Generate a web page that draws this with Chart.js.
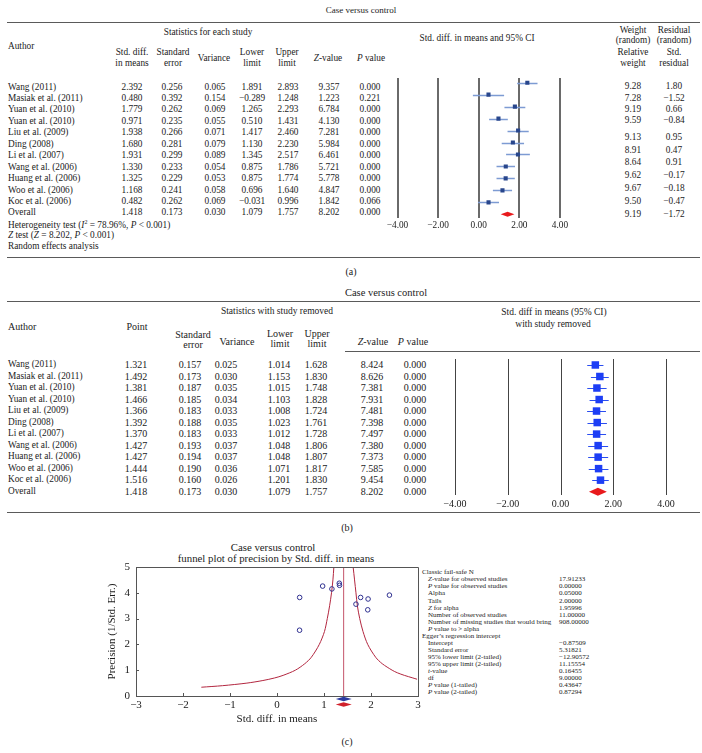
<!DOCTYPE html>
<html>
<head>
<meta charset="utf-8">
<script src="https://cdn.jsdelivr.net/npm/chart.js@4.4.1/dist/chart.umd.min.js"></script>
<style>
  html, body { margin: 0; padding: 0; background: #fff; }
  #page { position: relative; width: 702px; height: 753px; overflow: hidden;
          font-family: "Liberation Serif", "Times New Roman", serif; color: #1b1b1b; }
  .t { position: absolute; white-space: nowrap; line-height: 1; z-index: 1; }
  .rule { position: absolute; height: 0; border-top: 1.5px solid #5a5a5a; z-index: 1; }
  canvas { position: absolute; z-index: 2; }
</style>
</head>
<body>
<div id="page">
  <canvas id="forestA" width="210" height="175" style="left:370px;top:70px"></canvas>
  <canvas id="forestB" width="260" height="165" style="left:430px;top:350px"></canvas>
  <canvas id="funnel" width="340" height="170" style="left:90px;top:560px"></canvas>
</div>
<script>
// ---- data -------------------------------------------------------------
const authors = ["Wang (2011)", "Masiak et al. (2011)", "Yuan et al. (2010)", "Yuan et al. (2010)",
  "Liu et al. (2009)", "Ding (2008)", "Li et al. (2007)", "Wang et al. (2006)",
  "Huang et al. (2006)", "Woo et al. (2006)", "Koc et al. (2006)", "Overall"];

// (a) statistics for each study (last entry = overall)
const stdDiffA  = [2.392, 0.480, 1.779, 0.971, 1.938, 1.680, 1.931, 1.330, 1.325, 1.168, 0.482, 1.418];
const stdErrA   = [0.256, 0.392, 0.262, 0.235, 0.266, 0.281, 0.299, 0.233, 0.229, 0.241, 0.262, 0.173];
const varianceA = [0.065, 0.154, 0.069, 0.055, 0.071, 0.079, 0.089, 0.054, 0.053, 0.058, 0.069, 0.030];
const lowerA    = [1.891, -0.289, 1.265, 0.510, 1.417, 1.130, 1.345, 0.875, 0.875, 0.696, -0.031, 1.079];
const upperA    = [2.893, 1.248, 2.293, 1.431, 2.460, 2.230, 2.517, 1.786, 1.774, 1.640, 0.996, 1.757];
const zValueA   = [9.357, 1.223, 6.784, 4.130, 7.281, 5.984, 6.461, 5.721, 5.778, 4.847, 1.842, 8.202];
const pValueA   = [0.000, 0.221, 0.000, 0.000, 0.000, 0.000, 0.000, 0.000, 0.000, 0.000, 0.066, 0.000];
const relWeight = [9.28, 7.28, 9.19, 9.59, 9.13, 8.91, 8.64, 9.62, 9.67, 9.50, 9.19];
const stdResid  = [1.80, -1.52, 0.66, -0.84, 0.95, 0.47, 0.91, -0.17, -0.18, -0.47, -1.72];

// (b) statistics with study removed (last entry = overall)
const pointB    = [1.321, 1.492, 1.381, 1.466, 1.366, 1.392, 1.370, 1.427, 1.427, 1.444, 1.516, 1.418];
const stdErrB   = [0.157, 0.173, 0.187, 0.185, 0.183, 0.188, 0.183, 0.193, 0.194, 0.190, 0.160, 0.173];
const varianceB = [0.025, 0.030, 0.035, 0.034, 0.033, 0.035, 0.033, 0.037, 0.037, 0.036, 0.026, 0.030];
const lowerB    = [1.014, 1.153, 1.015, 1.103, 1.008, 1.023, 1.012, 1.048, 1.048, 1.071, 1.201, 1.079];
const upperB    = [1.628, 1.830, 1.748, 1.828, 1.724, 1.761, 1.728, 1.806, 1.807, 1.817, 1.830, 1.757];
const zValueB   = [8.424, 8.626, 7.381, 7.931, 7.481, 7.398, 7.497, 7.380, 7.373, 7.585, 9.454, 8.202];
const pValueB   = [0.000, 0.000, 0.000, 0.000, 0.000, 0.000, 0.000, 0.000, 0.000, 0.000, 0.000, 0.000];

// forest axis ticks
const forestTicks = [-4, -2, 0, 2, 4];

// (c) funnel plot
const funnelEffect    = [2.392, 0.480, 1.779, 0.971, 1.938, 1.680, 1.931, 1.330, 1.325, 1.168, 0.482];
const funnelPrecision = [3.91, 2.55, 3.82, 4.26, 3.76, 3.56, 3.34, 4.29, 4.37, 4.15, 3.82];
const funnelMean = 1.418;
const funnelLeftX  = [-1.61, -1.16, -0.64, -0.30, -0.05, 0.13, 0.39, 0.59, 0.73, 0.90, 1.01, 1.07, 1.12, 1.16, 1.19, 1.21];
const funnelLeftP  = [0.34, 0.40, 0.50, 0.60, 0.70, 0.80, 1.00, 1.25, 1.50, 2.00, 2.50, 3.00, 3.50, 4.00, 4.50, 5.00];
const funnelRightX = [1.62, 1.65, 1.68, 1.71, 1.76, 1.83, 1.93, 2.10, 2.24, 2.45, 2.56, 2.71, 2.89, 2.98];
const funnelRightP = [5.00, 4.50, 4.00, 3.50, 3.00, 2.50, 2.00, 1.50, 1.25, 1.00, 0.90, 0.80, 0.70, 0.65];
const funnelDiamond = { lo: 1.25, hi: 1.59 };

const statsLabels = ["Classic fail-safe N", "<i>Z</i>-value for observed studies", "<i>P</i> value for observed studies",
  "Alpha", "Tails", "<i>Z</i> for alpha", "Number of observed studies", "Number of missing studies that would bring",
  "<i>P</i> value to &gt; alpha", "Egger’s regression intercept", "Intercept", "Standard error",
  "95% lower limit (2-tailed)", "95% upper limit (2-tailed)", "<i>t</i>-value", "df",
  "<i>P</i> value (1-tailed)", "<i>P</i> value (2-tailed)"];
const statsValues = ["", "17.91233", "0.00000", "0.05000", "2.00000", "1.95996", "11.00000", "908.00000", "",
  "", "−0.87509", "5.31821", "−12.90572", "11.15554", "0.16455", "9.00000", "0.43647", "0.87294"];
const statsHeaders = [0, 9];

// ---- helpers -----------------------------------------------------------
const page = document.getElementById("page");
function txt(html, x, y, size, align) {
  const d = document.createElement("div");
  d.className = "t";
  d.innerHTML = html;
  d.style.fontSize = size + "px";
  d.style.left = x + "px";
  d.style.top = y + "px";
  const tx = align === "l" ? "0" : align === "r" ? "-100%" : "-50%";
  d.style.transform = `translate(${tx},-50%)`;
  page.appendChild(d);
}
function rule(x, y, w) {
  const d = document.createElement("div");
  d.className = "rule";
  d.style.left = x + "px"; d.style.top = y + "px"; d.style.width = w + "px";
  page.appendChild(d);
}
const fmt = (v, n) => (v < 0 ? "−" : "") + Math.abs(v).toFixed(n);
const serif = "'Liberation Serif', 'Times New Roman', serif";

// ---- panel (a) text ----------------------------------------------------
const fa = 9.3;
txt("Case versus control", 361, 10, 9);
rule(7, 22, 693);
txt("Statistics for each study", 208, 33, fa);
txt("Author", 8, 47, fa, "l");
[["Std. diff.", "in means", 132], ["Standard", "error", 173], ["Lower", "limit", 252], ["Upper", "limit", 287]]
  .forEach(([a, b, x]) => { txt(a, x, 53, fa); txt(b, x, 63.5, fa); });
txt("Variance", 214, 59, fa);
txt("<i>Z</i>-value", 328, 59, fa);
txt("<i>P</i> value", 371, 59, fa);
txt("Std. diff. in means and 95% CI", 477, 39, fa);
txt("Weight", 633, 31, fa); txt("(random)", 633, 40.5, fa);
txt("Relative", 633, 53, fa); txt("weight", 633, 63.5, fa);
txt("Residual", 674, 31, fa); txt("(random)", 674, 40.5, fa);
txt("Std.", 674, 53, fa); txt("residual", 674, 63.5, fa);

const colsA = [[stdDiffA, 132], [stdErrA, 172], [varianceA, 215], [lowerA, 252], [upperA, 288], [zValueA, 329], [pValueA, 370]];
authors.forEach((name, i) => {
  const y = 87.5 + i * 11.45;
  txt(name, 8, y, fa, "l");
  colsA.forEach(([arr, x]) => txt(fmt(arr[i], 3), x, y, fa));
});
relWeight.forEach((w, i) => {
  const y = i < 4 ? 87.3 + i * 11.2 : 137.7 + (i - 4) * 12.88;
  txt(w.toFixed(2), 633, y, fa);
  txt(fmt(stdResid[i], 2), 674, y, fa);
});
txt("Heterogeneity test (<i>I</i><sup style='font-size:6px'>2</sup> = 78.96%, <i>P</i> &lt; 0.001)", 8, 224.5, fa, "l");
txt("<i>Z</i> test (<i>Z</i> = 8.202, <i>P</i> &lt; 0.001)", 8, 235.5, fa, "l");
txt("Random effects analysis", 8, 246.5, fa, "l");
rule(7, 257, 693);
txt("(a)", 351, 272, 10);

// ---- panel (b) text ----------------------------------------------------
const fb = 10;
txt("Case versus control", 386, 293, 10.5);
rule(7, 301, 693);
txt("Statistics with study removed", 277, 311.5, 9.5);
txt("Author", 8, 327, fb, "l");
txt("Point", 137, 327, fb);
txt("Standard", 193, 335, fb); txt("error", 193, 345, fb);
txt("Variance", 237, 342, fb);
txt("Lower", 280, 334, fb); txt("limit", 280, 343.5, fb);
txt("Upper", 317, 334, fb); txt("limit", 317, 343.5, fb);
txt("<i>Z</i>-value", 373, 342, fb);
txt("<i>P</i> value", 413, 342, fb);
txt("Std. diff in means (95% CI)", 554, 313, 9.5);
txt("with study removed", 553, 325, 9.5);
rule(345, 351, 355);
const colsB = [[pointB, 136], [stdErrB, 190], [varianceB, 226], [lowerB, 279], [upperB, 316], [zValueB, 372], [pValueB, 415]];
authors.forEach((name, i) => {
  const y = 365 + i * 11.52;
  txt(name, 8, y, 9.3, "l");
  colsB.forEach(([arr, x]) => txt(fmt(arr[i], 3), x, y, fb));
});
rule(7, 511.5, 693);
txt("(b)", 347, 528, 10);

// ---- panel (c) text ----------------------------------------------------
txt("Case versus control", 273, 547, 10.8);
txt("funnel plot of precision by Std. diff. in means", 276, 557.5, 10.8);
statsLabels.forEach((lab, i) => {
  const y = 572.3 + i * 7.05;
  txt(lab, statsHeaders.includes(i) ? 422 : 428, y, 7, "l");
  if (statsValues[i]) txt(statsValues[i], 559, y, 7, "l");
});
txt("(c)", 347, 742, 10);

// ---- forest plots ------------------------------------------------------
// vertical reference lines at the axis ticks, then CI whiskers, then the pooled diamond
function forestPlugin(cfg) {
  return {
    id: "forest",
    beforeDatasetsDraw(chart) {
      const { ctx, chartArea: a, scales: { x, y } } = chart;
      ctx.save();
      ctx.strokeStyle = cfg.gridColor;
      ctx.lineWidth = cfg.gridW;
      const half = cfg.gridW % 2 === 1 ? 0.5 : 0;
      forestTicks.forEach(v => {
        const px = Math.round(x.getPixelForValue(v)) + half;
        ctx.beginPath(); ctx.moveTo(px, a.top); ctx.lineTo(px, a.bottom); ctx.stroke();
      });
      ctx.strokeStyle = cfg.ciColor;
      ctx.lineWidth = cfg.ciWidth;
      for (let i = 0; i < cfg.lower.length - 1; i++) {
        const py = Math.round(y.getPixelForValue(i)) + 0.5;
        ctx.beginPath();
        ctx.moveTo(x.getPixelForValue(cfg.lower[i]), py);
        ctx.lineTo(x.getPixelForValue(cfg.upper[i]), py);
        ctx.stroke();
      }
      ctx.restore();
    },
    afterDatasetsDraw(chart) {
      const { ctx, scales: { x, y } } = chart;
      const k = cfg.lower.length - 1;
      const py = y.getPixelForValue(k);
      const xl = x.getPixelForValue(cfg.lower[k]);
      const xr = x.getPixelForValue(cfg.upper[k]);
      const xc = x.getPixelForValue(cfg.point[k]);
      ctx.save();
      ctx.fillStyle = "#e8191c";
      ctx.beginPath();
      ctx.moveTo(xl, py);
      ctx.lineTo(xc, py - cfg.diamondH / 2);
      ctx.lineTo(xr, py);
      ctx.lineTo(xc, py + cfg.diamondH / 2);
      ctx.closePath();
      ctx.fill();
      ctx.restore();
    }
  };
}

function forestChart(id, point, lower, upper, o) {
  return new Chart(document.getElementById(id), {
    type: "scatter",
    data: {
      datasets: [{
        data: point.slice(0, -1).map((v, i) => ({ x: v, y: i })),
        pointStyle: "rect",
        pointRadius: o.radius,
        backgroundColor: o.markColor,
        borderColor: o.markColor,
        borderWidth: 0
      }]
    },
    options: {
      responsive: false,
      animation: false,
      layout: { padding: o.padding },
      plugins: { legend: { display: false }, tooltip: { enabled: false } },
      scales: {
        x: {
          type: "linear", min: -4, max: 4,
          afterBuildTicks: (s) => { s.ticks = forestTicks.map(v => ({ value: v })); },
          afterFit: (s) => { s.height = o.axisH; s.paddingLeft = 0; s.paddingRight = 0; },
          grid: { display: false, drawTicks: false },
          border: { display: false },
          ticks: {
            padding: o.tickPad, color: "#1b1b1b", autoSkip: false, maxRotation: 0,
            font: { family: serif, size: o.tickSize },
            callback: (v) => fmt(v, 2)
          }
        },
        y: { type: "linear", reverse: true, min: o.yMin, max: o.yMax, display: false }
      }
    },
    plugins: [forestPlugin({ lower, upper, point, ciColor: o.ciColor, ciWidth: o.ciWidth, diamondH: o.diamondH,
                             gridColor: o.gridColor, gridW: o.gridW })]
  });
}

forestChart("forestA", stdDiffA, lowerA, upperA, {
  radius: 2.9, markColor: "#28468c", ciColor: "#7d9bd3", ciWidth: 1.5, diamondH: 5,
  padding: { left: 27.5, right: 20, top: 8, bottom: 7 }, axisH: 20, tickPad: 2, tickSize: 9.3,
  gridColor: "#6a6a6a", gridW: 2, yMin: -0.393, yMax: 11.31
});
forestChart("forestB", pointB, lowerB, upperB, {
  radius: 5.3, markColor: "#1d3ef5", ciColor: "#2a4df0", ciWidth: 1, diamondH: 8,
  padding: { left: 25, right: 24, top: 9, bottom: 6 }, axisH: 14, tickPad: 3, tickSize: 10,
  gridColor: "#444", gridW: 1, yMin: -0.52, yMax: 11.29
});

// ---- funnel plot -------------------------------------------------------
const funnelExtras = {
  id: "funnelExtras",
  afterDatasetsDraw(chart) {
    const { ctx, chartArea: a, scales: { x, y } } = chart;
    ctx.save();
    ctx.strokeStyle = "#555";
    ctx.lineWidth = 1;
    ctx.beginPath();
    ctx.moveTo(a.left, a.top + 0.5); ctx.lineTo(a.right + 0.5, a.top + 0.5); ctx.lineTo(a.right + 0.5, a.bottom);
    x.ticks.forEach(t => { const px = Math.round(x.getPixelForValue(t.value)) + 0.5; ctx.moveTo(px, a.bottom); ctx.lineTo(px, a.bottom - 3); });
    y.ticks.forEach(t => { const py = Math.round(y.getPixelForValue(t.value)) + 0.5; ctx.moveTo(a.left, py); ctx.lineTo(a.left + 3, py); });
    ctx.stroke();
    const xl = x.getPixelForValue(funnelDiamond.lo), xr = x.getPixelForValue(funnelDiamond.hi);
    const xc = x.getPixelForValue(funnelMean);
    [["#2b3aa0", 3], ["#d0202a", 8.5]].forEach(([c, dy]) => {
      const py = a.bottom + dy;
      ctx.fillStyle = c;
      ctx.beginPath();
      ctx.moveTo(xl, py); ctx.lineTo(xc, py - 2.3); ctx.lineTo(xr, py); ctx.lineTo(xc, py + 2.3);
      ctx.closePath(); ctx.fill();
    });
    ctx.restore();
  }
};

const curve = (xs, ps) => xs.map((v, i) => ({ x: v, y: ps[i] }));
new Chart(document.getElementById("funnel"), {
  type: "scatter",
  data: {
    datasets: [
      {
        data: funnelEffect.map((v, i) => ({ x: v, y: funnelPrecision[i] })),
        pointStyle: "circle", pointRadius: 2.3, borderWidth: 1,
        borderColor: "#2e2f8f", backgroundColor: "rgba(0,0,0,0)"
      },
      { data: curve(funnelLeftX, funnelLeftP), showLine: true, pointRadius: 0, borderColor: "#b2263f", borderWidth: 1, tension: 0.3 },
      { data: curve(funnelRightX, funnelRightP), showLine: true, pointRadius: 0, borderColor: "#b2263f", borderWidth: 1, tension: 0.3 },
      { data: [{ x: funnelMean, y: 0 }, { x: funnelMean, y: 5 }], showLine: true, pointRadius: 0, borderColor: "#c4546a", borderWidth: 1 }
    ]
  },
  options: {
    responsive: false,
    animation: false,
    layout: { padding: { left: 0, right: 12, top: 7, bottom: 4 } },
    plugins: { legend: { display: false }, tooltip: { enabled: false } },
    scales: {
      x: {
        type: "linear", min: -3, max: 3,
        afterFit: (s) => { s.height = 30; s.paddingLeft = 0; s.paddingRight = 0; },
        grid: { display: false, drawTicks: false },
        border: { display: true, color: "#555", width: 1 },
        ticks: { stepSize: 1, padding: 3, color: "#1b1b1b", font: { family: serif, size: 11 },
                 callback: (v) => fmt(v, 0) },
        title: { display: true, text: "Std. diff. in means", color: "#1b1b1b",
                 font: { family: serif, size: 11 }, padding: { top: 0, bottom: 0 } }
      },
      y: {
        type: "linear", min: 0, max: 5,
        afterFit: (s) => { s.width = 46; s.paddingTop = 0; s.paddingBottom = 0; },
        grid: { display: false, drawTicks: false },
        border: { display: true, color: "#555", width: 1 },
        ticks: { stepSize: 1, padding: 6, color: "#1b1b1b", font: { family: serif, size: 11 } },
        title: { display: true, text: "Precision (1/Std. Err.)", color: "#1b1b1b",
                 font: { family: serif, size: 11 }, padding: { top: 16, bottom: 0 } }
      }
    }
  },
  plugins: [funnelExtras]
});
</script>
</body>
</html>
